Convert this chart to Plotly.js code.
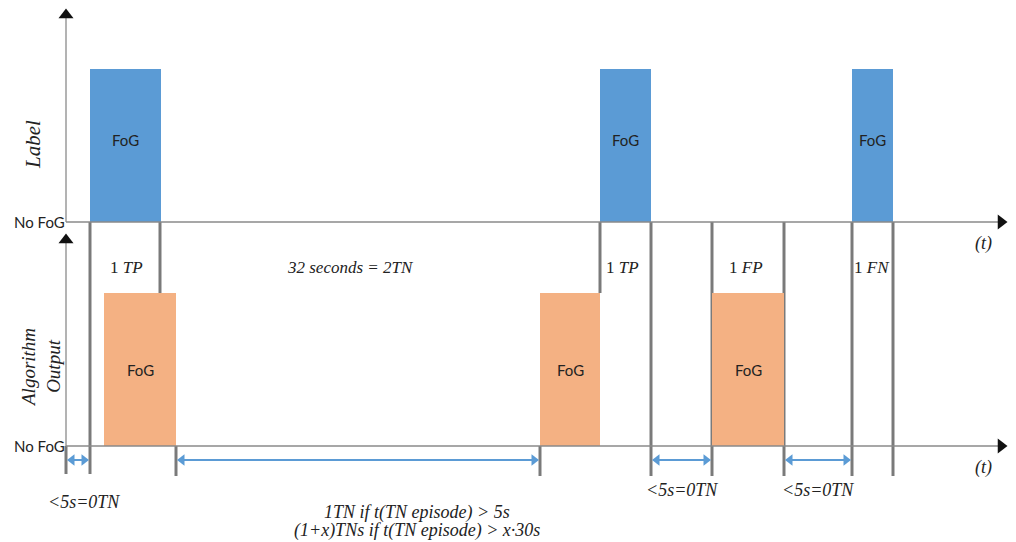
<!DOCTYPE html>
<html><head><meta charset="utf-8">
<script src="https://cdn.plot.ly/plotly-3.0.1.min.js"></script>
<style>html,body{margin:0;padding:0;background:#fff}#c{width:1016px;height:542px}</style>
</head><body><div id="c"></div>
<script>
// time positions (diagram units) of episodes
const labelStart = [90, 600, 852];
const labelEnd   = [161, 651, 893];
const outStart   = [104, 540, 712];
const outEnd     = [176, 600, 784];
// panel levels
const labelNoFoG = 222, labelFoG = 69;
const outNoFoG = 446, outFoG = 293;
// boundary markers
const boundX  = [90, 160, 176, 540, 600, 651, 712, 784, 852, 893, 66];
const boundY0 = [222, 222, 446, 446, 222, 222, 222, 222, 222, 222, 446];
const boundY1 = [474, 293, 476, 476, 293, 476, 476, 476, 476, 476, 474];
// TN interval arrows
const tnStart = [66, 176, 651, 784];
const tnEnd   = [90, 540, 712, 852];
const tnY = 460;
// texts
const eventText = ["1 <i>TP</i>", "<i>32 seconds = 2TN</i>", "1 <i>TP</i>", "1 <i>FP</i>", "1 <i>FN</i>"];
const eventX = [126, 350, 622, 746, 872];
const tnText = ["<i><5s=0TN</i>", "<i><5s=0TN</i>", "<i><5s=0TN</i>"];
const tnTextX = [84, 682, 818];
const tnTextY = [502, 490, 490];
const ruleText = ["<i>1TN if t(TN episode) > 5s</i>", "<i>(1+x)TNs if t(TN episode) > x·30s</i>"];
const ruleY = [512, 530];

const blue = '#5b9bd5', orange = '#f4b183', grey = '#7a7a7a', axisC = '#8a8a8a';
const traces = [];
function rect(x0, x1, y0, y1, color) {
  traces.push({type:'scatter', mode:'lines', x:[x0,x1,x1,x0,x0], y:[y0,y0,y1,y1,y0],
    fill:'toself', fillcolor:color, line:{width:0, color:color}, hoverinfo:'skip', showlegend:false});
}
// grey boundary lines (behind bars)
const gx = [], gy = [];
boundX.forEach((x,i)=>{ gx.push(x,x,null); gy.push(boundY0[i], boundY1[i], null); });
traces.push({type:'scatter', mode:'lines', x:gx, y:gy, line:{color:grey, width:3}, hoverinfo:'skip', showlegend:false});
labelStart.forEach((s,i)=>rect(s, labelEnd[i], labelNoFoG, labelFoG, blue));
outStart.forEach((s,i)=>rect(s, outEnd[i], outNoFoG, outFoG, orange));
// axes lines
traces.push({type:'scatter', mode:'lines', x:[66,66,null,66,998,null,66,66,null,66,998],
  y:[16,222,null,222,222,null,242,446,null,446,446], line:{color:axisC, width:1.3}, hoverinfo:'skip', showlegend:false});
traces.push({type:'scatter', mode:'markers', x:[66,1001,66,1001], y:[15,222,240,446],
  marker:{symbol:['triangle-up','triangle-right','triangle-up','triangle-right'], size:13, color:'#111'}, hoverinfo:'skip', showlegend:false});
// TN arrows
const ax = [], ay = [];
tnStart.forEach((s,i)=>{ ax.push(s+6, tnEnd[i]-6, null); ay.push(tnY, tnY, null); });
traces.push({type:'scatter', mode:'lines', x:ax, y:ay, line:{color:blue, width:2}, hoverinfo:'skip', showlegend:false});
const mx = [], my = [], ms = [];
tnStart.forEach((s,i)=>{ mx.push(s+6, tnEnd[i]-6); my.push(tnY, tnY); ms.push('triangle-left','triangle-right'); });
traces.push({type:'scatter', mode:'markers', x:mx, y:my, marker:{symbol:ms, size:10, color:blue}, hoverinfo:'skip', showlegend:false});

const serif = 'Liberation Serif, DejaVu Serif, serif';
const sans = 'Lato, Liberation Sans, sans-serif';
const ann = [];
function t(x, y, text, size, family, extra) {
  ann.push(Object.assign({x:x, y:y, xref:'x', yref:'y', text:text, showarrow:false,
    font:{family:family, size:size, color:'#222'}}, extra||{}));
}
labelStart.forEach((s,i)=>t((s+labelEnd[i])/2, 140, 'FoG', 15, sans));
outStart.forEach((s,i)=>t((s+outEnd[i])/2, 370, 'FoG', 15, sans));
t(39, 222, 'No FoG', 15, sans);
t(39, 446, 'No FoG', 15, sans);
t(33, 145, '<i>Label</i>', 21, serif, {textangle:-90});
t(41, 368, '<i>Algorithm<br>Output</i>', 19, serif, {textangle:-90});
eventX.forEach((x,i)=>t(x, 267, eventText[i], 17, serif));
t(983, 243, '<i>(t)</i>', 18, serif);
t(983, 467, '<i>(t)</i>', 18, serif);
tnText.forEach((s,i)=>t(tnTextX[i], tnTextY[i], s, 18, serif));
ruleText.forEach((s,i)=>t(417, ruleY[i], s, 18, serif));

const layout = {
  width:1016, height:542, margin:{l:0,r:0,t:0,b:0},
  paper_bgcolor:'#fff', plot_bgcolor:'#fff', showlegend:false,
  xaxis:{range:[0,1016], visible:false, fixedrange:true},
  yaxis:{range:[542,0], visible:false, fixedrange:true},
  annotations:ann
};
Plotly.newPlot('c', traces, layout, {staticPlot:true});
</script></body></html>
